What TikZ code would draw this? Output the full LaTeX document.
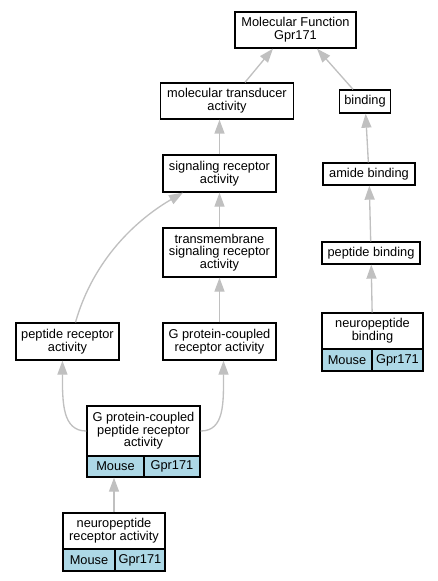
\documentclass[tikz,border=0pt]{standalone}
\usepackage{fontspec}
\setmainfont{Liberation Sans}
\usetikzlibrary{arrows.meta}
\definecolor{cellblue}{HTML}{ADD8E6}
\definecolor{edgegray}{RGB}{192,192,192}
\begin{document}
\begin{tikzpicture}[x=0.75pt,y=-0.75pt,
  box/.style={draw=black, line width=1pt, inner sep=0pt, align=center, font=\fontsize{9.6pt}{9.5pt}\selectfont, fill=white},
  cell/.style={box, fill=cellblue},
  edge/.style={draw=edgegray, line width=1pt, -{Triangle[length=10.5pt,width=7.5pt,fill=edgegray]}}]
\useasboundingbox (0,0) rectangle (437,581);
% nodes
\node[box, minimum width=90.75pt, minimum height=27pt] (mf) at (295.5,30) {Molecular Function\\Gpr171};
\node[box, minimum width=99.75pt, minimum height=27pt] (mta) at (227,101) {molecular transducer\\activity};
\node[box, minimum width=38.25pt, minimum height=17.25pt] (bind) at (365,101.5) {binding};
\node[box, minimum width=84.75pt, minimum height=27.75pt] (sra) at (219.5,173.5) {signaling receptor\\activity};
\node[box, minimum width=84.75pt, minimum height=36.75pt] (tsra) at (219.5,252.5) {transmembrane\\signaling receptor\\activity};
\node[box, minimum width=77.25pt, minimum height=27.75pt] (pra) at (67.5,341.5) {peptide receptor\\activity};
\node[box, minimum width=84.75pt, minimum height=27.75pt] (gpcr) at (219.5,341.5) {G protein-coupled\\receptor activity};
\node[box, minimum width=69pt, minimum height=16.5pt] (amide) at (369,174) {amide binding};
\node[box, minimum width=73.5pt, minimum height=16.5pt] (pb) at (371,253) {peptide binding};
% neuropeptide binding
\node[box, minimum width=75.75pt, minimum height=27pt] (nb) at (372.5,331) {neuropeptide\\binding};
\node[cell, minimum width=37.5pt, minimum height=16.5pt] (nbm) at (347,360) {Mouse};
\node[cell, minimum width=38.25pt, minimum height=16.5pt] (nbg) at (397.5,360) {Gpr171};
% G protein-coupled peptide receptor activity
\node[box, minimum width=84.75pt, minimum height=37.5pt] (gpcpra) at (143.5,431) {G protein-coupled\\peptide receptor\\activity};
\node[cell, minimum width=42.75pt, minimum height=15.75pt] (gm) at (115.5,466.5) {Mouse};
\node[cell, minimum width=42pt, minimum height=15.75pt] (gg) at (172,466.5) {Gpr171};
% neuropeptide receptor activity
\node[box, minimum width=76.5pt, minimum height=27pt] (npra) at (114,531) {neuropeptide\\receptor activity};
\node[cell, minimum width=39pt, minimum height=16.5pt] (nm) at (89,560) {Mouse};
\node[cell, minimum width=37.5pt, minimum height=16.5pt] (ng) at (140,560) {Gpr171};
% edges
\draw[edge] ([xshift=13.5pt]mta.north) -- ([xshift=-16.9pt]mf.south);
\draw[edge] ([xshift=-9pt]bind.north) -- ([xshift=16.1pt]mf.south);
\draw[edge] (sra.north) -- (sra.north |- mta.south);
\draw[edge] (tsra.north) -- (sra.south);
\draw[edge] (gpcr.north) -- (tsra.south);
\draw[edge] ([xshift=6pt]pra.north) .. controls +(20,-70) and +(-38,22) .. ([xshift=-27.4pt]sra.south);
\draw[edge] (gpcpra.west) .. controls +(-24,0) and +(0,42) .. ([xshift=-3.8pt]pra.south);
\draw[edge] (gpcpra.east) .. controls +(24,0) and +(0,42) .. ([xshift=3pt]gpcr.south);
\draw[edge] (npra.north) -- (npra.north |- gm.south);
\draw[edge] (amide) -- (bind);
\draw[edge] (pb) -- (amide);
\draw[edge] (nb) -- (pb);
\end{tikzpicture}
\end{document}
